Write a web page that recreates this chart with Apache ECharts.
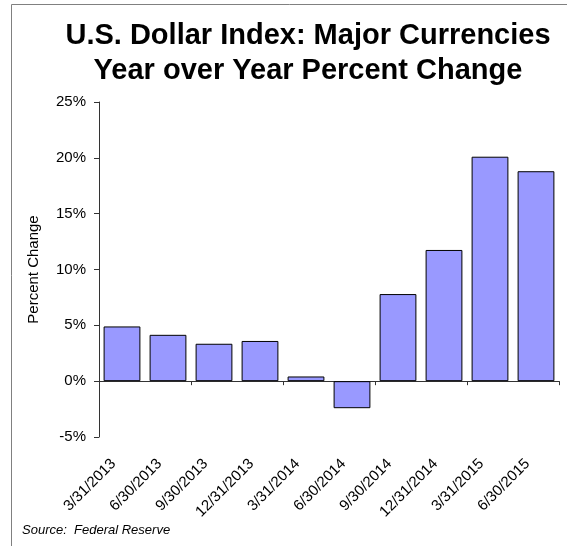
<!DOCTYPE html>
<html>
<head>
<meta charset="utf-8">
<script src="https://cdn.jsdelivr.net/npm/echarts@6/dist/echarts.min.js"></script>
<style>
html,body{margin:0;padding:0;background:#fff;}
#chart{width:567px;height:546px;}
</style>
</head>
<body>
<div id="chart"></div>
<script>
const categories = ['3/31/2013','6/30/2013','9/30/2013','12/31/2013','3/31/2014','6/30/2014','9/30/2014','12/31/2014','3/31/2015','6/30/2015'];
const values = [4.9, 4.15, 3.35, 3.6, 0.42, -2.42, 7.8, 11.75, 20.1, 18.8];
const yTicks = [-5, 0, 5, 10, 15, 20, 25];
const titleLines = ['U.S. Dollar Index: Major Currencies', 'Year over Year Percent Change'];
const yAxisTitle = 'Percent Change';
const sourceText = 'Source:  Federal Reserve';

const FONT = '"Liberation Sans", Arial, Helvetica, sans-serif';
const chart = echarts.init(document.getElementById('chart'), null, {renderer: 'canvas'});
chart.setOption({
  animation: false,
  backgroundColor: '#ffffff',
  title: {
    text: titleLines.join('\n'),
    left: 303, top: 13, textAlign: 'center',
    textStyle: {fontFamily: FONT, fontWeight: 'bold', fontSize: 29, lineHeight: 35, color: '#000'}
  },
  graphic: [
    {type: 'rect', shape: {x: 11.5, y: 4.5, width: 700, height: 700}, style: {fill: 'none', stroke: '#808080', lineWidth: 1}, silent: true, z: 0},
    {type: 'text', left: 22, top: 524, style: {text: sourceText, font: 'italic 13px ' + FONT, fill: '#000'}}
  ],
  grid: {left: 99, top: 102, width: 460, height: 335, containLabel: false},
  xAxis: [
    {
      type: 'category', data: categories,
      axisLine: {onZero: true, lineStyle: {color: '#333', width: 1}},
      axisTick: {show: true, length: 4, inside: false, lineStyle: {color: '#333'}},
      axisLabel: {show: false}
    },
    {
      type: 'category', data: categories, position: 'bottom',
      axisLine: {show: false}, axisTick: {show: false},
      axisLabel: {rotate: 45, margin: 16, padding: [0, 12, 0, 0], fontFamily: FONT, fontSize: 15, color: '#000', interval: 0}
    }
  ],
  yAxis: {
    type: 'value', min: yTicks[0], max: yTicks[yTicks.length - 1], interval: 5,
    name: yAxisTitle, nameLocation: 'middle', nameRotate: 90, nameGap: 58,
    nameTextStyle: {fontFamily: FONT, fontSize: 15, color: '#000'},
    axisLine: {show: true, lineStyle: {color: '#333'}},
    axisTick: {show: true, length: 5, lineStyle: {color: '#333'}},
    axisLabel: {formatter: v => v + '%', fontFamily: FONT, fontSize: 15, color: '#000', margin: 13},
    splitLine: {show: false}
  },
  series: [{
    type: 'bar', data: values, xAxisIndex: 0,
    barCategoryGap: '20%',
    itemStyle: {color: '#9999FF', borderColor: '#000', borderWidth: 1}
  }]
});
</script>
</body>
</html>
